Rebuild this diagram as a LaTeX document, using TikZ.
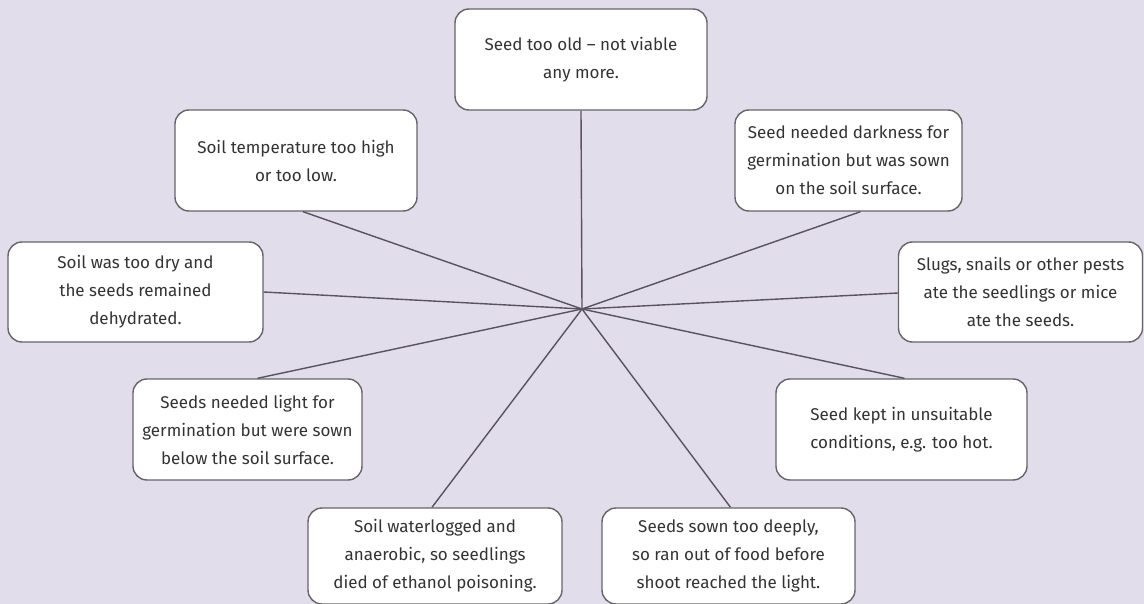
\documentclass[tikz,border=0pt]{standalone}
\usepackage{fontspec}
\setmainfont{Fira Sans}
\usetikzlibrary{positioning}
\definecolor{bglav}{HTML}{E1DDEB}
\definecolor{boxgray}{HTML}{666468}
\definecolor{linegray}{HTML}{58535F}
\definecolor{textgray}{HTML}{333333}

\begin{document}
\begin{tikzpicture}[x=1pt, y=-1pt, font=\fontsize{17}{28}\selectfont, cause/.style={rectangle, rounded corners=14pt, draw=boxgray, line width=1.4pt, fill=white, text=textgray, align=center, inner sep=0pt, minimum height=101pt}, link/.style={draw=linegray, line width=1.4pt}]
\fill[bglav] (0,0) rectangle (1144,604);
\useasboundingbox (0,0) rectangle (1144,604);
\coordinate (hub) at (582,309);
\node[cause, minimum width=252pt] (old) at (581,59.5) {Seed too old -- not viable\\any more.};
\node[cause, minimum width=242pt] (temp) at (296,160.5) {Soil temperature too high\\or too low.};
\node[cause, minimum width=227pt] (dark) at (848.5,160.5) {Seed needed darkness for\\germination but was sown\\on the soil surface.};
\node[cause, minimum width=255pt, minimum height=100pt] (dry) at (135.5,292) {Soil was too dry and\\the seeds remained\\dehydrated.};
\node[cause, minimum width=244pt, minimum height=100pt] (pests) at (1020.5,292) {Slugs, snails or other pests\\ate the seedlings or mice\\ate the seeds.};
\node[cause, minimum width=229pt] (light) at (247.5,429.5) {Seeds needed light for\\germination but were sown\\below the soil surface.};
\node[cause, minimum width=251pt] (kept) at (901.5,429.5) {Seed kept in unsuitable\\conditions, e.g. too hot.};
\node[cause, minimum width=254pt, minimum height=96pt] (water) at (435,556) {Soil waterlogged and\\anaerobic, so seedlings\\died of ethanol poisoning.};
\node[cause, minimum width=253pt, minimum height=96pt] (deep) at (728.5,556) {Seeds sown too deeply,\\so ran out of food before\\shoot reached the light.};
\draw[link] (hub) -- (old.south); \draw[link] (hub) -- ([xshift=7pt]temp.south); \draw[link] (hub) -- ([xshift=12pt]dark.south);
\draw[link] (hub) -- (dry.east); \draw[link] (hub) -- ([yshift=-1pt]pests.west); \draw[link] (hub) -- ([xshift=10pt]light.north);
\draw[link] (hub) -- ([xshift=3pt]kept.north); \draw[link] (hub) -- ([xshift=-3pt]water.north); \draw[link] (hub) -- ([xshift=2pt]deep.north);
\end{tikzpicture}
\end{document}
